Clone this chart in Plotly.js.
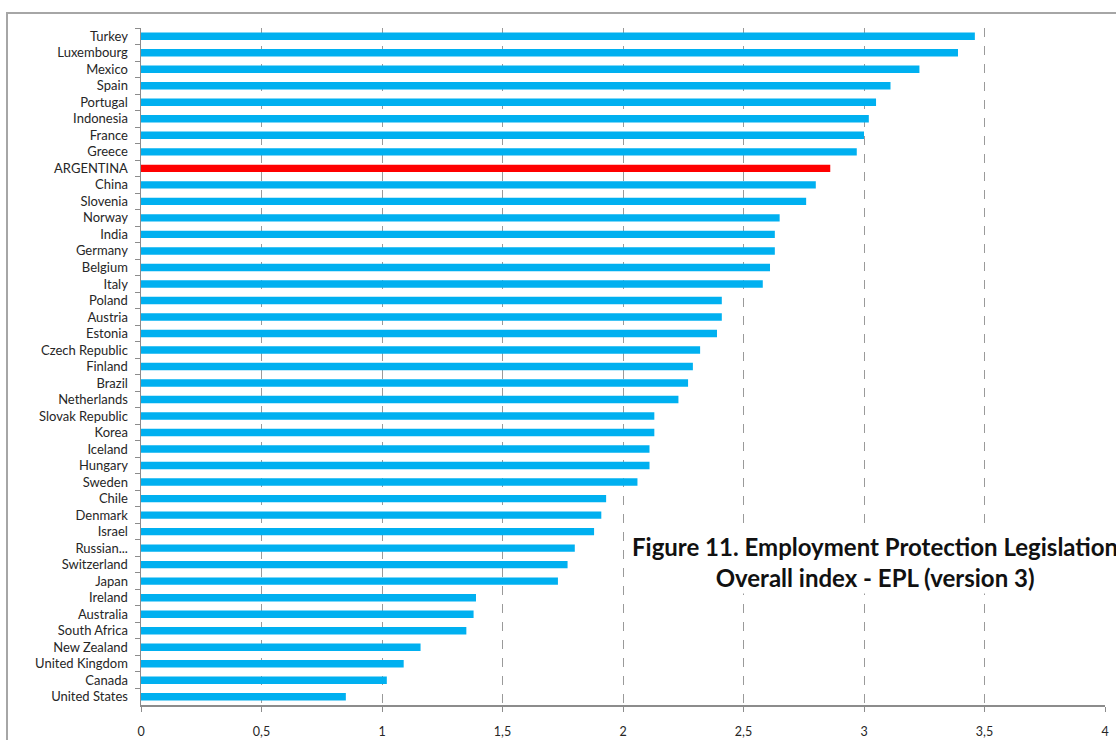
<!DOCTYPE html>
<html>
<head>
<meta charset="utf-8">
<script src="https://cdn.plot.ly/plotly-3.0.1.min.js"></script>
<style>
  html, body { margin: 0; padding: 0; background: #fff; }
  #chart { width: 1116px; height: 740px; }
</style>
</head>
<body>
<div id="chart"></div>
<script>
// EPL overall index (version 3), top to bottom as in the figure
const countries = [
  "Turkey", "Luxembourg", "Mexico", "Spain", "Portugal", "Indonesia", "France", "Greece",
  "ARGENTINA", "China", "Slovenia", "Norway", "India", "Germany", "Belgium", "Italy",
  "Poland", "Austria", "Estonia", "Czech Republic", "Finland", "Brazil", "Netherlands",
  "Slovak Republic", "Korea", "Iceland", "Hungary", "Sweden", "Chile", "Denmark", "Israel",
  "Russian...", "Switzerland", "Japan", "Ireland", "Australia", "South Africa",
  "New Zealand", "United Kingdom", "Canada", "United States"
];
const eplValues = [
  3.46, 3.39, 3.23, 3.11, 3.05, 3.02, 3.00, 2.97,
  2.86, 2.80, 2.76, 2.65, 2.63, 2.63, 2.61, 2.58,
  2.41, 2.41, 2.39, 2.32, 2.29, 2.27, 2.23,
  2.13, 2.13, 2.11, 2.11, 2.06, 1.93, 1.91, 1.88,
  1.80, 1.77, 1.73, 1.39, 1.38, 1.35,
  1.16, 1.09, 1.02, 0.85
];
const highlight = "ARGENTINA";
const xTicks = [0, 0.5, 1, 1.5, 2, 2.5, 3, 3.5, 4];

const BLUE = "#00B0F0", RED = "#FF0000", AXIS = "#8c8c8c", INK = "#262626";

const trace = {
  type: "bar", orientation: "h",
  x: eplValues, y: countries,
  width: 0.45,
  marker: { color: countries.map(c => c === highlight ? RED : BLUE) },
  hoverinfo: "x+y",
};

const layout = {
  width: 1116, height: 740,
  margin: { l: 141, r: 11, t: 28, b: 35 },
  paper_bgcolor: "#fff", plot_bgcolor: "#fff",
  separators: ",.",
  showlegend: false,
  font: { family: "Lato, 'Open Sans', sans-serif", size: 12, color: INK },
  xaxis: {
    range: [0, 4], tickvals: xTicks,
    showgrid: true, gridcolor: "#9a9a9a", griddash: "dash", gridwidth: 1,
    zeroline: false,
    showline: true, linecolor: AXIS, linewidth: 1.5,
    ticks: "outside", ticklen: 5, tickcolor: AXIS,
    ticklabelstandoff: 9,
    tickfont: { size: 12.5, color: INK },
  },
  yaxis: {
    type: "category", autorange: "reversed",
    showgrid: false, zeroline: false,
    showline: true, linecolor: AXIS, linewidth: 1.5,
    ticks: "outside", ticklen: 5, tickcolor: AXIS, tickson: "boundaries",
    ticklabelstandoff: 9,
    tickfont: { size: 13, color: INK },
  },
  annotations: [{
    text: "<b>Figure 11. Employment Protection Legislation</b><br><b>Overall index - EPL (version 3)</b>",
    xref: "x", yref: "paper", x: 3.046, y: 0.211,
    xanchor: "center", yanchor: "middle", align: "center",
    showarrow: false, bgcolor: "#fff",
    font: { family: "Lato, 'Open Sans', sans-serif", size: 24, color: "#111" },
  }],
  shapes: [{
    type: "rect", xref: "paper", yref: "paper",
    x0: -0.139, x1: 1.2, y0: -0.2, y1: 1.022,
    line: { color: "#a6a6a6", width: 2 }, fillcolor: "rgba(0,0,0,0)",
    layer: "above",
  }],
};

Plotly.newPlot("chart", [trace], layout, { displayModeBar: false, staticPlot: true });
</script>
</body>
</html>
